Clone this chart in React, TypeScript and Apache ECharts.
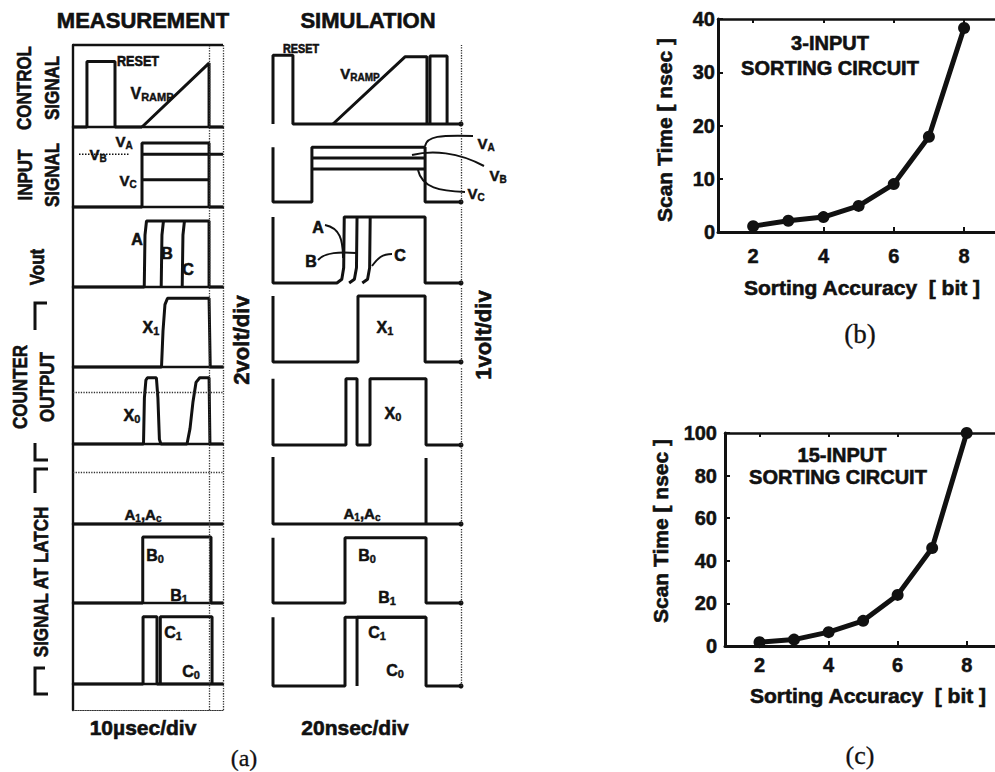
import React, { useEffect, useRef } from "react";
import * as echarts from "echarts";

// ---------------- data ----------------
// (b), (c): scan time vs sorting accuracy
const bits = [2, 3, 4, 5, 6, 7, 8];
const scanTime3Input = [1.1, 2.1, 2.8, 4.9, 9.0, 17.9, 38.3];
const scanTime15Input = [1.8, 3.0, 6.5, 11.8, 24.0, 46.0, 100.0];
const bitTicks = [2, 4, 6, 8];

// (a) MEASUREMENT: x = 0..100 across the screen (10 usec/div), y = 0..10 of each trace band
const mReset = [[0, 0], [9.3, 0], [9.3, 8], [28, 8], [28, 0], [46, 0]];
const mRamp = [[46, 0], [90.7, 7.8], [90.7, 0], [100, 0]];
const mVA = [[0, 0], [46, 0], [46, 8], [90.7, 8], [90.7, 0], [100, 0]];
const mVB = [[46, 6.6], [100, 6.6]];
const mVC = [[46, 3.4], [90.7, 3.4]];
const mVBRef = [[4, 6.6], [38, 6.6]];
const mOutA = [[0, 0], [47.5, 0], [48, 6.5], [49, 8.25], [90.7, 8.25], [90.7, 0], [100, 0]];
const mOutB = [[58.8, 0], [59.3, 6.5], [60.3, 8.25]];
const mOutC = [[72.8, 0], [73.3, 6.5], [74.3, 8.25]];
const mX1 = [[0, 0], [59, 0], [60, 4.5], [61.3, 7.8], [63, 8.6], [90.7, 8.6], [91.5, 0], [100, 0]];
const mX0 = [[0, 0], [47, 0], [47.6, 6], [48.6, 8.3], [49.6, 8.6], [55.6, 8.6], [56.6, 6], [57.6, 0.6], [58.6, 0], [76, 0], [78, 2], [80, 5.5], [82, 8], [84.5, 8.6], [90.7, 8.6], [91.3, 0], [100, 0]];
const mA1Ac = [[0, 0], [100, 0]];
const mB0 = [[0, 0], [46.5, 0], [46.5, 8.35], [92, 8.35], [92, 0], [100, 0]];
const mC1 = [[0, 0], [46.7, 0], [46.7, 8.3], [56, 8.3], [56, 0], [100, 0]];
const mC0 = [[58.2, 0], [58.2, 8.3], [92.7, 8.3], [92.7, 0]];

// (a) SIMULATION: x = 0..100 across the screen (20 nsec/div), y = 0..10 of each trace band
const sReset = [[0, 0], [0, 8.7], [10.6, 8.7], [10.6, 0], [100, 0]];
const sRamp = [[31.9, 0], [70.2, 8.5], [81.9, 8.5], [81.9, 0]];
const sReset2 = [[83.5, 0], [83.5, 8.6], [92.6, 8.6], [92.6, 0]];
const sVA = [[0, 7.4], [0, 0], [20.7, 0], [20.7, 7.4], [80.9, 7.4], [80.9, 0], [100, 0]];
const sVB = [[20.7, 5.95], [80.9, 5.95]];
const sVC = [[20.7, 4.45], [80.9, 4.45]];
const sOutA = [[0, 8.7], [0, 0], [34, 0], [36.6, 0.5], [37.6, 2], [37.9, 8.7], [80.9, 8.7], [80.9, 0], [100, 0]];
const sOutB = [[40.5, 0], [43.3, 0.5], [44.4, 2], [44.7, 8.7]];
const sOutC = [[47.5, 0], [50.3, 0.5], [51.4, 2], [51.7, 8.7]];
const sX1 = [[0, 8.8], [0, 0], [45.2, 0], [45.2, 8.8], [80.9, 8.8], [80.9, 0], [100, 0]];
const sX0 = [[0, 8.5], [0, 0], [38.8, 0], [38.8, 8.5], [44.7, 8.5], [44.7, 0], [51.6, 0], [51.6, 8.5], [81.4, 8.5], [81.4, 0], [100, 0]];
const sA1Ac = [[0, 8.8], [0, 0], [81.4, 0], [81.4, 8.7], [81.4, 0], [100, 0]];
const sB0 = [[0, 8.7], [0, 0], [38.3, 0], [38.3, 8.7], [81.4, 8.7], [81.4, 0], [100, 0]];
const sC1 = [[0, 8.7], [0, 0], [38.3, 0], [38.3, 8.7], [81.4, 8.7], [81.4, 0], [100, 0]];
const sC0 = [[44.7, 0], [44.7, 8.7], [81.4, 8.7]];

// ---------------- styling helpers ----------------
const F = "'Liberation Sans', Arial, Helvetica, sans-serif";
const SERIF = "'Liberation Serif', 'Times New Roman', serif";
const INK = "#111";

const richFor = (size: number) => ({
  m: { fontSize: size, fontWeight: "bold", fontFamily: F, fill: INK, stroke: INK, lineWidth: 0.5 },
  s: {
    fontSize: Math.round(size * 0.68),
    fontWeight: "bold",
    fontFamily: F,
    fill: INK,
    stroke: INK,
    lineWidth: 0.4,
    padding: [Math.round(size * 0.5), 0, 0, 0],
  },
});

function txt(x: number, y: number, text: string, size: number, opts: any = {}) {
  const serif = opts.family === SERIF;
  return {
    type: "text",
    x,
    y,
    rotation: opts.rot || 0,
    scaleX: opts.sx || 1,
    silent: true,
    z: 10,
    style: {
      text,
      fontSize: size,
      fontWeight: opts.weight || "bold",
      fontFamily: opts.family || F,
      fill: INK,
      stroke: INK,
      lineWidth: serif ? 0.3 : 0.6,
      align: "center",
      verticalAlign: "middle",
      rich: opts.rich ? richFor(size) : undefined,
    },
  };
}

function poly(points: number[][], w = 3) {
  return { type: "polyline", silent: true, shape: { points }, style: { stroke: INK, lineWidth: w, fill: null } };
}

function leader(x1: number, y1: number, c1x: number, c1y: number, c2x: number, c2y: number, x2: number, y2: number) {
  return {
    type: "bezierCurve",
    silent: true,
    shape: { x1, y1, cpx1: c1x, cpy1: c1y, cpx2: c2x, cpy2: c2y, x2, y2 },
    style: { stroke: INK, lineWidth: 2, fill: null },
  };
}

const dotted = { type: "dotted", color: "#333", width: 1.3 };
function ml(items: any[]) {
  return { silent: true, symbol: ["none", "none"], label: { show: false }, lineStyle: dotted, data: items, animation: false };
}

function buildOption() {
  const grids: any[] = [];
  const xAxes: any[] = [];
  const yAxes: any[] = [];
  const series: any[] = [];
  const hidden = { show: false };

  const addPanel = (left: number, top: number, width: number, height: number, frame: boolean, bottomDotted = false) => {
    grids.push({ left, top, width, height });
    const g = grids.length - 1;
    xAxes.push({
      gridIndex: g, type: "value", min: 0, max: 100,
      show: frame,
      axisLine: { show: true, lineStyle: bottomDotted ? { color: "#333", width: 1.2, type: "dotted" } : { color: INK, width: 2.4 } },
      axisTick: hidden, axisLabel: hidden, splitLine: hidden,
    });
    yAxes.push({
      gridIndex: g, type: "value", min: 0, max: 10,
      show: frame,
      axisLine: { show: true, lineStyle: { color: INK, width: 2.4 } },
      axisTick: hidden, axisLabel: hidden, splitLine: hidden,
    });
    return [xAxes.length - 1, yAxes.length - 1];
  };

  const trace = (xi: number, yi: number, data: any[], extra: any = {}) =>
    series.push({
      type: "line", xAxisIndex: xi, yAxisIndex: yi, data, symbol: "none", clip: false, silent: true,
      lineStyle: { color: INK, width: 3 }, itemStyle: { color: INK }, z: 3, ...extra,
    });

  // ---- MEASUREMENT column ----
  const mPanels = [[45, 82], [127, 80], [207, 80], [287, 80], [367, 77], [444, 80], [524, 79], [603, 81], [684, 26]];
  const mTraces: any[][] = [
    [mReset, mRamp], [mVA, mVB, mVC], [mOutA, mOutB, mOutC], [mX1], [mX0], [mA1Ac], [mB0], [mC1, mC0], [],
  ];
  const mExtra: Record<number, any[]> = {
    0: [{ yAxis: 10, lineStyle: { type: "solid", width: 2.4, color: INK } }],
    4: [{ yAxis: 6.75 }],
    5: [{ yAxis: 6.5 }],
  };
  mPanels.forEach(([top, h], i) => {
    const [xi, yi] = addPanel(73, top, 150, h, true, i === mPanels.length - 1);
    const list = mTraces[i].length ? mTraces[i] : [[[0, 0]]];
    list.forEach((d: any, k: number) =>
      trace(xi, yi, d, k === 0 ? { markLine: ml([{ xAxis: 90.7 }, { xAxis: 100 }, ...(mExtra[i] || [])]) } : {})
    );
    if (i === 1) trace(xi, yi, mVBRef, { lineStyle: { color: INK, width: 1.5, type: "dotted" } });
  });

  // ---- SIMULATION column ----
  const sPanels = [[45, 79], [128, 74], [207, 76], [287, 75], [367, 78], [448, 76], [528, 75], [607, 79]];
  const sTraces: any[][] = [
    [sReset, sRamp, sReset2], [sVA, sVB, sVC], [sOutA, sOutB, sOutC], [sX1], [sX0], [sA1Ac], [sB0], [sC1, sC0],
  ];
  sPanels.forEach(([top, h], i) => {
    const [xi, yi] = addPanel(273, top, 188, h, false);
    sTraces[i].forEach((d: any, k: number) => {
      const data = d.map((p: number[], j: number) =>
        k === 0 && j === d.length - 1 && p[0] === 100 ? { value: p, symbol: "circle", symbolSize: 5 } : p
      );
      trace(xi, yi, data, k === 0 ? { markLine: ml([{ xAxis: 100 }]) } : {});
    });
  });

  // ---- (b) and (c) ----
  const charts = [
    { left: 718, top: 19, height: 213, xmax: 8.88, ymax: 40, yint: 10, vals: scanTime3Input, xm: 14, ym: 3 },
    { left: 725, top: 433, height: 213, xmax: 8.82, ymax: 100, yint: 20, vals: scanTime15Input, xm: 9, ym: 8 },
  ];
  const labelStyle = { fontSize: 20, fontWeight: "bold", fontFamily: F, color: INK, textBorderColor: INK, textBorderWidth: 0.5 };
  charts.forEach((c) => {
    grids.push({ left: c.left, top: c.top, right: 0, height: c.height });
    const g = grids.length - 1;
    xAxes.push({
      gridIndex: g, type: "value", min: 1, max: c.xmax, interval: 1,
      axisLine: { show: true, lineStyle: { color: INK, width: 3 } },
      axisTick: { show: true, inside: true, length: 5, customValues: bitTicks, lineStyle: { color: INK, width: 2 } },
      axisLabel: {
        ...labelStyle, margin: c.xm, customValues: bitTicks,
        formatter: (v: number) => (Number.isInteger(v) && v % 2 === 0 ? String(v) : ""),
      },
      splitLine: hidden,
    });
    const xi = xAxes.length - 1;
    xAxes.push({
      gridIndex: g, type: "value", position: "top", min: 1, max: c.xmax, interval: 1,
      axisLine: { show: true, lineStyle: { color: INK, width: 2.5 } },
      axisTick: { show: true, inside: true, length: 4, customValues: bitTicks, lineStyle: { color: INK, width: 2 } },
      axisLabel: hidden, splitLine: hidden,
    });
    yAxes.push({
      gridIndex: g, type: "value", min: 0, max: c.ymax, interval: c.yint,
      axisLine: { show: true, lineStyle: { color: INK, width: 3 } },
      axisTick: { show: true, inside: true, length: 5, lineStyle: { color: INK, width: 2 } },
      axisLabel: { ...labelStyle, margin: c.ym },
      splitLine: hidden,
    });
    const yi = yAxes.length - 1;
    series.push({
      type: "line", xAxisIndex: xi, yAxisIndex: yi, clip: false,
      data: bits.map((b, i) => [b, c.vals[i]]),
      symbol: "circle", symbolSize: 12, showSymbol: true,
      lineStyle: { color: INK, width: 5 }, itemStyle: { color: INK }, z: 4,
    });
  });

  // ---- texts & annotation shapes ----
  const rotLab = { rot: Math.PI / 2, sx: 0.85 };
  const els: any[] = [
    txt(143, 20, "MEASUREMENT", 22),
    txt(368, 20, "SIMULATION", 22),
    txt(24, 88, "CONTROL", 20, rotLab),
    txt(52, 88, "SIGNAL", 20, rotLab),
    txt(25, 175, "INPUT", 20, rotLab),
    txt(52, 175, "SIGNAL", 20, rotLab),
    txt(37, 267, "Vout", 20, rotLab),
    txt(20, 387, "COUNTER", 20, rotLab),
    txt(47, 387, "OUTPUT", 20, rotLab),
    txt(41, 582, "SIGNAL AT LATCH", 20, rotLab),
    txt(241, 340, "2volt/div", 22, { rot: Math.PI / 2 }),
    txt(483, 335, "1volt/div", 22, { rot: Math.PI / 2 }),
    txt(143, 727, "10\u00b5sec/div", 21),
    txt(355, 727, "20nsec/div", 21),
    txt(244, 758, "(a)", 24, { family: SERIF, weight: "normal" }),
    txt(860, 334, "(b)", 27, { family: SERIF, weight: "normal" }),
    txt(860, 755, "(c)", 26, { family: SERIF, weight: "normal" }),
    // brackets
    poly([[47, 303], [35, 303], [35, 330]]),
    poly([[35, 443], [35, 460], [48, 460]]),
    poly([[48, 469], [35, 469], [35, 493]]),
    poly([[45, 668], [35, 668], [35, 694], [48, 694]]),
    // measurement labels
    txt(138, 61, "RESET", 14, { sx: 0.9 }),
    txt(152, 93, "{m|V}{s|RAMP}", 16, { rich: true }),
    txt(98, 154, "{m|V}{s|B}", 15, { rich: true }),
    txt(124, 141, "{m|V}{s|A}", 15, { rich: true }),
    txt(128, 180, "{m|V}{s|C}", 15, { rich: true }),
    txt(137, 239, "A", 16),
    txt(167, 253, "B", 16),
    txt(188, 269, "C", 16),
    txt(151, 327, "{m|X}{s|1}", 16, { rich: true }),
    txt(132, 415, "{m|X}{s|0}", 16, { rich: true }),
    txt(143, 514, "{m|A}{s|1}{m|,A}{s|c}", 15, { rich: true }),
    txt(155, 555, "{m|B}{s|0}", 16, { rich: true }),
    txt(179, 595, "{m|B}{s|1}", 16, { rich: true }),
    txt(173, 632, "{m|C}{s|1}", 16, { rich: true }),
    txt(191, 671, "{m|C}{s|0}", 16, { rich: true }),
    // simulation labels
    txt(301, 49, "RESET", 12, { sx: 0.9 }),
    txt(360, 73, "{m|V}{s|RAMP}", 15, { rich: true }),
    txt(486, 143, "{m|V}{s|A}", 15, { rich: true }),
    txt(498, 175, "{m|V}{s|B}", 15, { rich: true }),
    txt(476, 193, "{m|V}{s|C}", 15, { rich: true }),
    txt(318, 227, "A", 16),
    txt(311, 261, "B", 16),
    txt(400, 255, "C", 16),
    txt(385, 327, "{m|X}{s|1}", 16, { rich: true }),
    txt(393, 413, "{m|X}{s|0}", 16, { rich: true }),
    txt(362, 513, "{m|A}{s|1}{m|,A}{s|c}", 15, { rich: true }),
    txt(367, 555, "{m|B}{s|0}", 16, { rich: true }),
    txt(387, 597, "{m|B}{s|1}", 16, { rich: true }),
    txt(377, 632, "{m|C}{s|1}", 16, { rich: true }),
    txt(395, 670, "{m|C}{s|0}", 16, { rich: true }),
    leader(425, 146, 427, 136, 440, 135, 473, 136),
    leader(412, 155, 432, 150, 458, 152, 484, 166),
    leader(418, 170, 422, 188, 440, 191, 465, 192),
    leader(325, 225, 340, 228, 343, 240, 343, 258),
    leader(318, 260, 325, 252, 340, 252, 356, 253),
    leader(392, 254, 382, 254, 378, 258, 372, 266),
    // (b), (c) texts
    txt(830, 43, "3-INPUT", 20),
    txt(830, 68, "SORTING CIRCUIT", 20),
    txt(842, 455, "15-INPUT", 20),
    txt(838, 477, "SORTING CIRCUIT", 20),
    txt(664, 130, "Scan Time [ nsec ]", 21, { rot: Math.PI / 2 }),
    txt(660, 531, "Scan Time [ nsec ]", 21, { rot: Math.PI / 2 }),
    txt(862, 287, "Sorting Accuracy  [ bit ]", 21),
    txt(868, 695, "Sorting Accuracy  [ bit ]", 21),
  ];

  return {
    animation: false,
    backgroundColor: "#fff",
    grid: grids,
    xAxis: xAxes,
    yAxis: yAxes,
    series,
    graphic: { elements: els },
  };
}

export default function App() {
  const ref = useRef<HTMLDivElement>(null);
  useEffect(() => {
    if (!ref.current) return;
    const chart = echarts.init(ref.current, null, { renderer: "svg" });
    chart.setOption(buildOption() as any);
    return () => chart.dispose();
  }, []);
  return (
    <div
      ref={ref}
      style={{ position: "absolute", left: 0, top: 0, width: 995, height: 772, background: "#fff" }}
    />
  );
}
